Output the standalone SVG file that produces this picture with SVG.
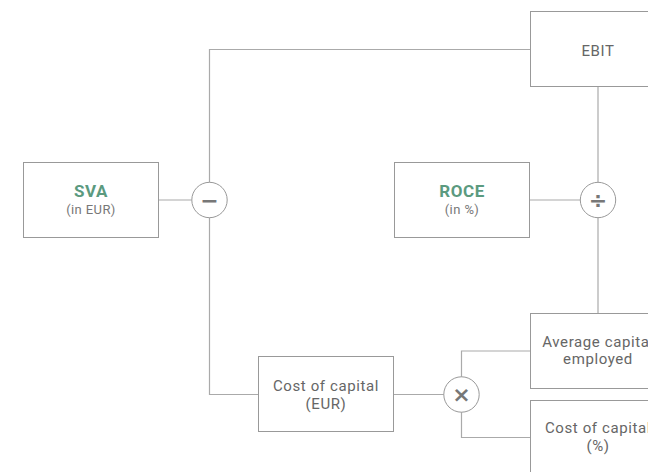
<svg xmlns="http://www.w3.org/2000/svg" width="648" height="472" viewBox="0 0 648 472">
<style>
.bg{fill:#ffffff}
.box{fill:#ffffff;stroke:#999999;stroke-width:1}
.op{fill:#ffffff;stroke:#999999;stroke-width:1}
.conn{fill:none;stroke:#aaaaaa;stroke-width:1.2}
.lbl{font-family:Roboto,"Noto Sans",sans-serif;font-size:15px;fill:#666666;letter-spacing:0.6px;text-anchor:middle}
.ttl{font-family:Roboto,"Noto Sans",sans-serif;font-size:17px;font-weight:bold;fill:#5b9a7f;letter-spacing:0.6px;text-anchor:middle}
.sub{font-family:Roboto,"Noto Sans",sans-serif;font-size:13px;fill:#777777;letter-spacing:0.4px;text-anchor:middle}
.sym{font-family:"DejaVu Sans",sans-serif;font-size:22px;font-weight:bold;fill:#777777;text-anchor:middle}
</style>
<rect class="bg" x="0" y="0" width="648" height="472"/>
<g id="connectors">
<path class="conn" d="M530.5 49.5 H209.5 V394.5 H258.5"/>
<path class="conn" d="M158.5 200 H191.5"/>
<path class="conn" d="M529.5 200 H580"/>
<path class="conn" d="M598 86.5 V313.5"/>
<path class="conn" d="M393.5 394.5 H444"/>
<path class="conn" d="M530.5 351 H461.5 V437.5 H530.5"/>
</g>
<g id="sva">
<rect class="box" x="23.5" y="162.5" width="135" height="75"/>
<text class="ttl" x="91" y="197">SVA</text>
<text class="sub" x="91" y="214">(in EUR)</text>
</g>
<g id="minus">
<circle class="op" cx="209.5" cy="200" r="17.7"/>
<text class="sym" x="209.5" y="207.5">−</text>
</g>
<g id="roce">
<rect class="box" x="394.5" y="162.5" width="135" height="75"/>
<text class="ttl" x="462" y="197">ROCE</text>
<text class="sub" x="462" y="214">(in %)</text>
</g>
<g id="divide">
<circle class="op" cx="598" cy="200" r="17.7"/>
<text class="sym" x="598" y="207.5">÷</text>
</g>
<g id="ebit">
<rect class="box" x="530.5" y="11.5" width="135" height="75"/>
<text class="lbl" x="598" y="55.5">EBIT</text>
</g>
<g id="avg-capital">
<rect class="box" x="530.5" y="313.5" width="135" height="75"/>
<text class="lbl" x="598" y="346.5">Average capital</text>
<text class="lbl" x="598" y="364">employed</text>
</g>
<g id="cost-pct">
<rect class="box" x="530.5" y="400.5" width="135" height="75"/>
<text class="lbl" x="598" y="433">Cost of capital</text>
<text class="lbl" x="598" y="450.5">(%)</text>
</g>
<g id="cost-eur">
<rect class="box" x="258.5" y="356.5" width="135" height="75"/>
<text class="lbl" x="326" y="391">Cost of capital</text>
<text class="lbl" x="326" y="408.5">(EUR)</text>
</g>
<g id="times">
<circle class="op" cx="461.5" cy="394.5" r="17.7"/>
<text class="sym" x="461.5" y="402">×</text>
</g>
</svg>
